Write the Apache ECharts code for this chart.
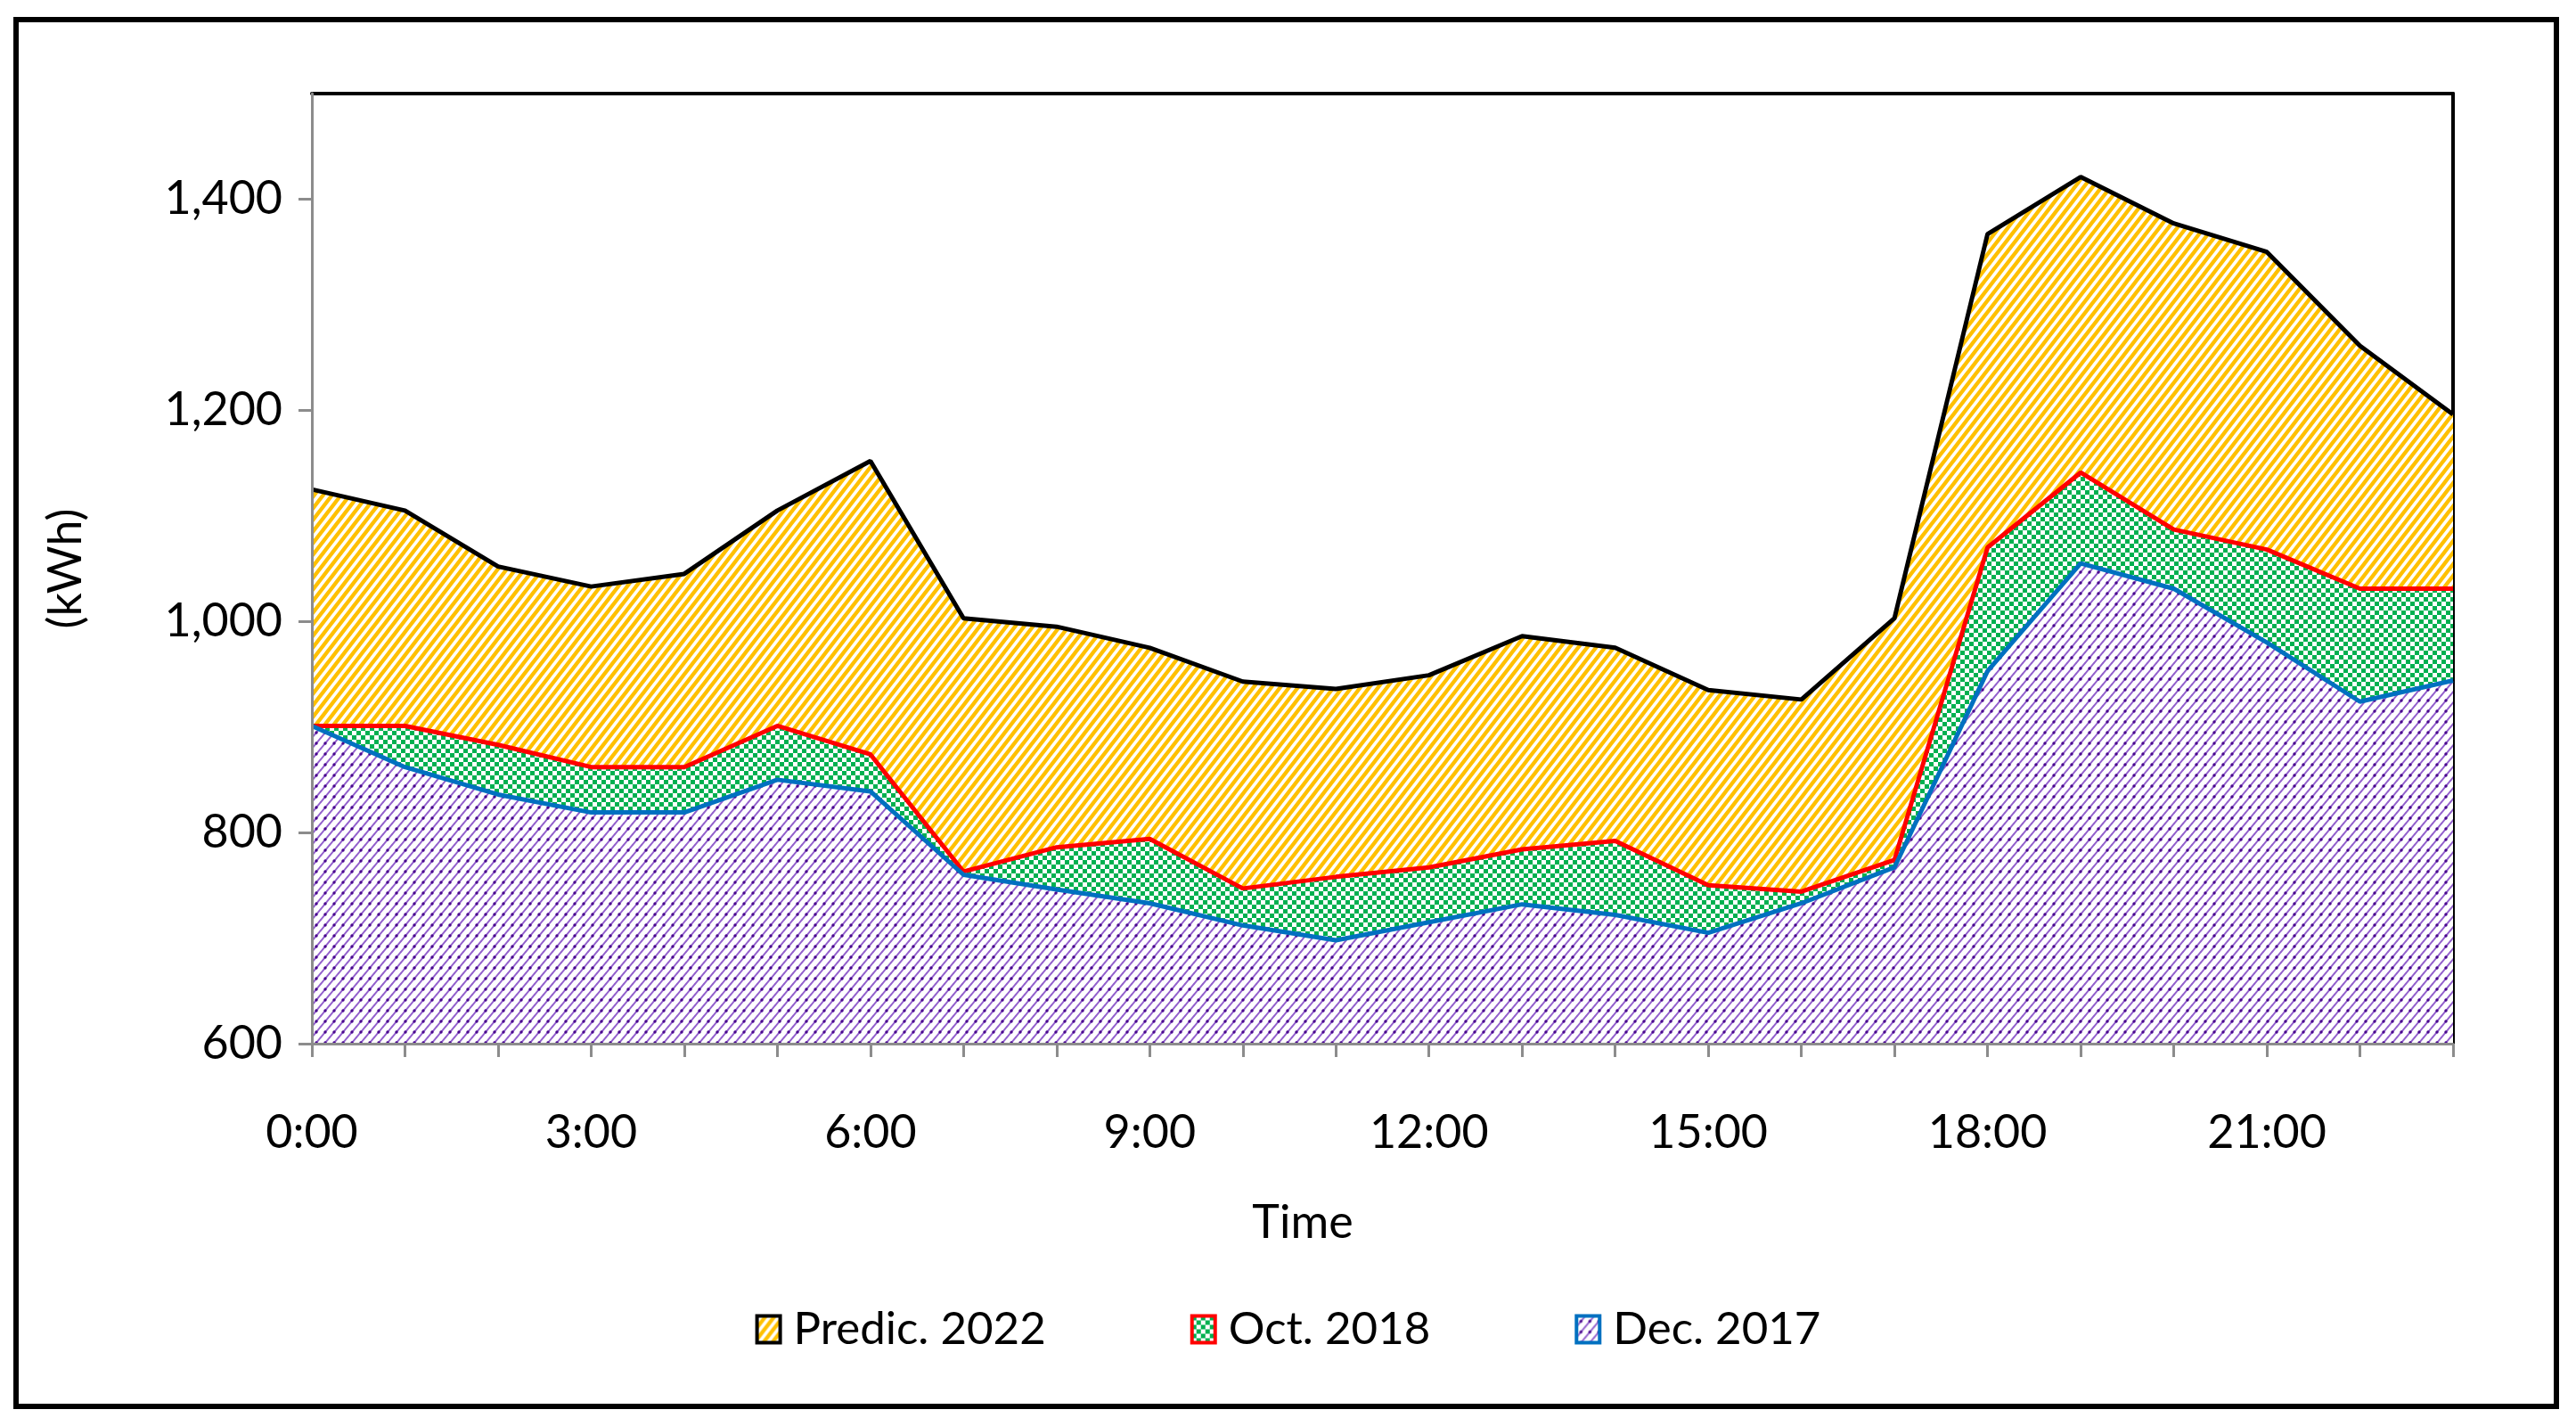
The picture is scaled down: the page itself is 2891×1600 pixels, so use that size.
<!DOCTYPE html>
<html>
<head>
<meta charset="utf-8">
<script src="https://cdn.jsdelivr.net/npm/echarts@6/dist/echarts.min.js"></script>
<style>
html,body{margin:0;padding:0;background:#fff;}
#chart{width:2891px;height:1600px;}
</style>
</head>
<body>
<div id="chart"></div>
<script>
// ---- data ----
const categories = ['0:00','1:00','2:00','3:00','4:00','5:00','6:00','7:00','8:00','9:00','10:00','11:00',
  '12:00','13:00','14:00','15:00','16:00','17:00','18:00','19:00','20:00','21:00','22:00','23:00'];
const seriesNames = ['Predic. 2022', 'Oct. 2018', 'Dec. 2017'];
const predic2022 = [1125,1105,1052,1033,1045,1105,1152,1003,995,975,943,936,949,986,975,935,926,1003,1367,1421,1377,1350,1261,1196];
const oct2018    = [901,901,883,862,862,901,874,763,786,794,747,758,767,784,792,750,744,774,1070,1141,1087,1068,1031,1031];
const dec2017    = [901,862,836,819,819,850,839,760,746,733,712,698,715,732,722,705,733,767,953,1055,1031,980,924,944];
const yTicks = {min: 600, max: 1500, interval: 200};

// ---- patterns ----
function diagTile(w, h, color, lw, dotColor, dotR) {
  const c = document.createElement('canvas');
  c.width = w; c.height = h;
  const g = c.getContext('2d');
  g.fillStyle = '#fff'; g.fillRect(0, 0, w, h);
  g.strokeStyle = color; g.lineWidth = lw; g.lineCap = 'square';
  g.beginPath();
  for (const dx of [-w, 0, w]) { g.moveTo(dx, h); g.lineTo(dx + w, 0); }
  g.stroke();
  if (dotColor) {
    g.fillStyle = dotColor;
    g.beginPath(); g.arc(w / 2, h / 2, dotR, 0, Math.PI * 2); g.fill();
  }
  return c;
}
function checkerTile(s, color) {
  const c = document.createElement('canvas');
  c.width = 2 * s; c.height = 2 * s;
  const g = c.getContext('2d');
  g.fillStyle = '#fff'; g.fillRect(0, 0, 2 * s, 2 * s);
  g.fillStyle = color;
  g.fillRect(0, 0, s, s); g.fillRect(s, s, s, s);
  return c;
}
const patYellow = {image: diagTile(10, 13, '#FFC000', 4.4), repeat: 'repeat'};
const patGreen  = {image: checkerTile(5, '#00B050'), repeat: 'repeat'};
const patPurple = {image: diagTile(10, 12, '#9260CC', 2.0, '#4A0A8E', 1.7), repeat: 'repeat'};

const lineColors = ['#000000', '#FF0000', '#0070C0'];
const patterns = [patYellow, patGreen, patPurple];
const values = [predic2022, oct2018, dec2017];

const FONT = 'Lato, sans-serif';
const chart = echarts.init(document.getElementById('chart'), null, {renderer: 'canvas'});

const series = seriesNames.map((name, i) => ({
  name: name,
  type: 'line',
  data: values[i],
  symbol: 'none',
  showSymbol: false,
  z: 2 + i,
  lineStyle: {color: lineColors[i], width: 5},
  itemStyle: {color: patterns[i], borderColor: lineColors[i], borderWidth: 4},
  areaStyle: {color: patterns[i], opacity: 1, origin: 'start'},
  emphasis: {disabled: true},
  animation: false
}));

chart.setOption({
  animation: false,
  backgroundColor: '#fff',
  grid: {left: 350, right: 138, top: 105, bottom: 429},
  xAxis: [{
    type: 'category',
    data: categories,
    boundaryGap: false,
    axisLine: {lineStyle: {color: '#8C8C8C', width: 3}},
    axisTick: {show: true, interval: 0, length: 15, lineStyle: {color: '#8C8C8C', width: 3}},
    axisLabel: {interval: 2, margin: 74, color: '#000', fontSize: 52, fontFamily: FONT},
    splitLine: {show: false},
    z: 5
  }, {
    type: 'category',
    position: 'top',
    data: categories,
    boundaryGap: false,
    axisLine: {lineStyle: {color: '#000', width: 4}},
    axisTick: {show: false},
    axisLabel: {show: false},
    splitLine: {show: false}
  }],
  yAxis: [{
    type: 'value',
    min: yTicks.min, max: yTicks.max, interval: yTicks.interval,
    name: '(kWh)',
    nameLocation: 'middle',
    nameGap: 250,
    nameTextStyle: {color: '#000', fontSize: 52, fontFamily: FONT},
    axisLine: {show: true, lineStyle: {color: '#8C8C8C', width: 3}},
    axisTick: {show: true, length: 15, lineStyle: {color: '#8C8C8C', width: 3}},
    axisLabel: {margin: 33, color: '#000', fontSize: 52, fontFamily: FONT, showMaxLabel: false,
      formatter: v => v.toLocaleString('en-US')},
    splitLine: {show: false},
    z: 5
  }, {
    type: 'value',
    position: 'right',
    min: yTicks.min, max: yTicks.max, interval: yTicks.interval,
    axisLine: {show: true, lineStyle: {color: '#000', width: 4}},
    axisTick: {show: false},
    axisLabel: {show: false},
    splitLine: {show: false}
  }],
  legend: {
    show: true,
    left: 'center',
    top: 1461,
    icon: 'rect',
    itemWidth: 26,
    itemHeight: 30,
    itemGap: 162,
    textStyle: {color: '#000', fontSize: 51, fontFamily: FONT, padding: [0, 0, 0, 10]},
    data: seriesNames.map((n, i) => ({
      name: n,
      itemStyle: {color: patterns[i], borderColor: lineColors[i], borderWidth: 4}
    }))
  },
  graphic: [
    {type: 'text', x: 1462, y: 1372, z: 10,
     style: {text: 'Time', fill: '#000', font: '52px ' + FONT, align: 'center', verticalAlign: 'middle'}},
    {type: 'rect', z: 20, silent: true,
     shape: {x: 18, y: 22, width: 2851, height: 1556},
     style: {fill: 'none', stroke: '#000', lineWidth: 6}}
  ],
  series: series
});
</script>
</body>
</html>
